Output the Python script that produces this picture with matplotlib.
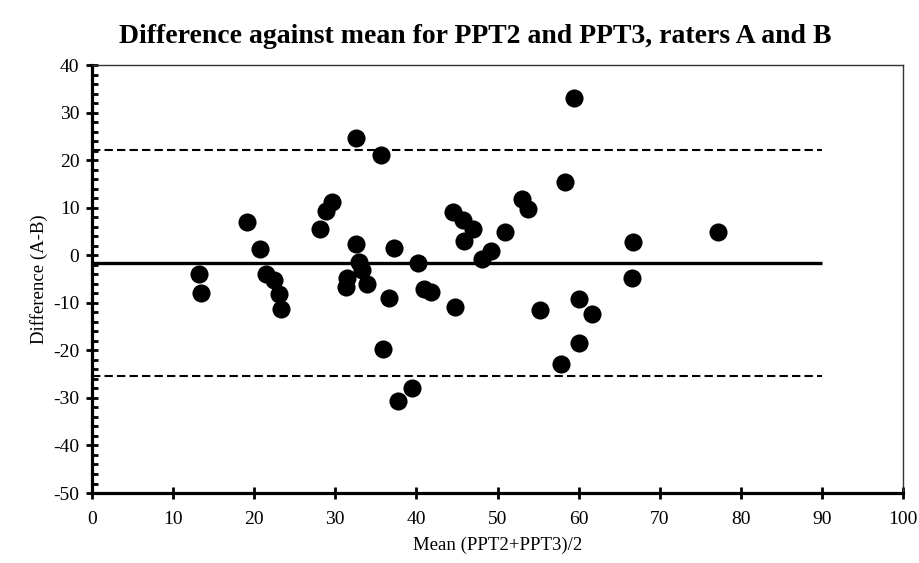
import matplotlib
import numpy as np

matplotlib.use("Agg")
import matplotlib.pyplot as plt
from matplotlib.ticker import MultipleLocator

# mean of the two raters' scores (x) and difference A-B (y)
mean_ppt = [
    13.2, 13.4, 19.15, 20.75, 21.4, 22.4, 23.1, 23.3, 28.1, 28.8,
    29.6, 31.3, 31.4, 32.5, 32.6, 33.3, 32.9, 33.9, 35.6, 35.9,
    36.6, 37.2, 37.7, 39.4, 40.2, 40.9, 41.8, 44.5, 44.8, 45.8,
    45.9, 47.0, 48.1, 49.2, 50.9, 53.0, 53.7, 55.3, 57.8, 58.3,
    59.4, 60.0, 60.1, 61.7, 66.6, 66.7, 77.2,
]
diff_ab = [
    -4.0, -7.9, 6.9, 1.3, -3.9, -5.3, -8.1, -11.3, 5.5, 9.2,
    11.1, -6.7, -4.7, 24.7, 2.4, -3.0, -1.4, -6.1, 21.0, -19.7,
    -8.9, 1.5, -30.7, -28.0, -1.6, -7.0, -7.8, 9.1, -10.9, 7.4,
    3.0, 5.6, -0.8, 0.9, 4.9, 11.8, 9.8, -11.5, -22.9, 15.4,
    33.0, -9.3, -18.5, -12.3, -4.8, 2.7, 4.8,
]
bias = -1.7
upper_loa = 22.2
lower_loa = -25.4
line_span = [0, 90]

plt.rcParams["font.family"] = ["Liberation Serif", "DejaVu Serif"]
plt.rcParams["axes.unicode_minus"] = False

fig = plt.figure(figsize=(9.19, 5.63), dpi=100)
ax = fig.add_axes([0.1001, 0.1243, 0.8825, 0.7602])

ax.plot(line_span, [bias, bias], color="black", linewidth=2.4, solid_capstyle="butt")
ax.plot(line_span, [upper_loa, upper_loa], color="black", linewidth=1.5,
        dashes=(4, 2))
ax.plot(line_span, [lower_loa, lower_loa], color="black", linewidth=1.5,
        dashes=(4, 2))
ax.scatter(mean_ppt, diff_ab, s=170, color="black", linewidths=0, zorder=3)

ax.set_xlim(0, 100)
ax.set_ylim(-50, 40)
ax.xaxis.set_major_locator(MultipleLocator(10))
ax.yaxis.set_major_locator(MultipleLocator(10))
ax.yaxis.set_minor_locator(MultipleLocator(2))

for side in ["left", "bottom"]:
    ax.spines[side].set_linewidth(2.3)
for side in ["top", "right"]:
    ax.spines[side].set_linewidth(1.0)
    ax.spines[side].set_color("#333333")

ax.tick_params(axis="both", which="major", direction="inout", length=8,
               width=2.0, labelsize=14, top=False, right=False)
ax.tick_params(axis="y", which="minor", direction="in", length=4, width=2.0,
               right=False)
ax.tick_params(axis="x", which="major", pad=9)
ax.tick_params(axis="y", which="major", pad=5)

ax.set_xlabel("Mean (PPT2+PPT3)/2", fontsize=13.5, labelpad=6)
ax.set_ylabel("Difference (A-B)", fontsize=13.5, labelpad=4)
fig.suptitle("Difference against mean for PPT2 and PPT3, raters A and B",
             fontsize=20, fontweight="bold", x=0.517, y=0.935, va="center")

fig.savefig("out.png", dpi=100)
